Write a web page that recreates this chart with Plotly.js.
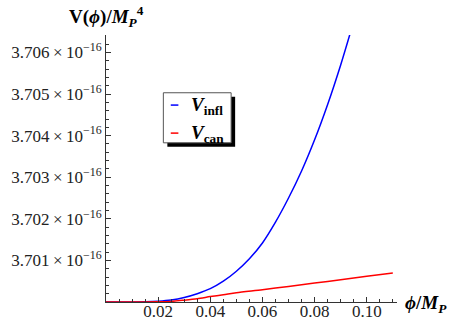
<!DOCTYPE html>
<html>
<head>
<meta charset="utf-8">
<script src="https://cdn.plot.ly/plotly-3.0.1.min.js"></script>
<style>html,body{margin:0;padding:0;background:#fff;}#plot{width:454px;height:321px;}</style>
</head>
<body>
<div id="plot"></div>
<script>
// ---- data (V in units of 1e-16 M_P^4) ----
var phiInfl = [0, 0.005, 0.01, 0.015, 0.02, 0.025, 0.03, 0.035, 0.04, 0.045, 0.05, 0.055, 0.06, 0.065, 0.07, 0.075, 0.08, 0.085, 0.09, 0.095];
var vInfl = [3.70000, 3.70000, 3.70000, 3.700005, 3.70002, 3.70005, 3.70011, 3.70020, 3.70032, 3.70050, 3.70074, 3.70104, 3.70142, 3.70192, 3.70250, 3.70315, 3.70390, 3.70475, 3.70570, 3.70675];
var phiCan = [0, 0.01, 0.02, 0.025, 0.03, 0.035, 0.04, 0.045, 0.05, 0.06, 0.07, 0.08, 0.09, 0.10, 0.11];
var vCan = [3.70000, 3.70000, 3.700005, 3.700015, 3.700045, 3.70008, 3.70013, 3.700175, 3.700225, 3.700295, 3.700375, 3.700455, 3.700535, 3.70062, 3.70070];
var xTickVals = [0.02, 0.04, 0.06, 0.08, 0.10];
var xTickText = ['0.02', '0.04', '0.06', '0.08', '0.10'];
var yTickVals = [3.701, 3.702, 3.703, 3.704, 3.705, 3.706];
var yTickMant = ['3.701', '3.702', '3.703', '3.704', '3.705', '3.706'];
var yTickExp = '−16';
var yTickText = yTickMant.map(function (s) {
  return s + '\u2009×\u200910<sup>' + yTickExp + '</sup>';
});
var seriesNames = ['<b><i>V</i><sub>infl</sub></b>', '<b><i>V</i><sub>can</sub></b>'];
var seriesColors = ['#0000ff', '#ff0000'];

// ---- layout geometry ----
var L = 106, T = 35, W = 290.7, H = 266.7, FW = 454, FH = 321;
function px(x) { return (x - L) / W; }
function py(y) { return (T + H - y) / H; }
var serif = 'Liberation Serif';

var traces = [
  { x: phiInfl, y: vInfl, mode: 'lines', name: seriesNames[0], line: { color: seriesColors[0], width: 1.5, shape: 'spline', smoothing: 0.8 }, showlegend: false },
  { x: phiCan, y: vCan, mode: 'lines', name: seriesNames[1], line: { color: seriesColors[1], width: 1.5, shape: 'spline', smoothing: 0.8 }, showlegend: false }
];

var legY = [105, 133];
var shapes = [
  { type: 'rect', xref: 'paper', yref: 'paper', x0: px(167.3), x1: px(235), y0: py(146.7), y1: py(96.7), fillcolor: '#000', line: { width: 0 }, layer: 'above' },
  { type: 'rect', xref: 'paper', yref: 'paper', x0: px(163.3), x1: px(231), y0: py(142.7), y1: py(92.7), fillcolor: '#fff', line: { width: 1, color: '#555' }, layer: 'above' }
];
var annotations = [];
for (var i = 0; i < 2; i++) {
  shapes.push({ type: 'line', xref: 'paper', yref: 'paper', x0: px(170.7), x1: px(178.3), y0: py(legY[i]), y1: py(legY[i]), line: { color: seriesColors[i], width: 1.5 }, layer: 'above' });
  annotations.push({ xref: 'paper', yref: 'paper', x: px(189), y: py(legY[i] + 1), xanchor: 'left', yanchor: 'middle', showarrow: false, text: seriesNames[i], font: { family: serif, size: 19, color: '#000' } });
}
annotations.push({ xref: 'paper', yref: 'paper', x: 0, y: 1, xanchor: 'center', yanchor: 'bottom', yshift: 3, showarrow: false,
  text: '<b>V(<i>ϕ</i>)/<i>M<sub>P</sub></i><sup>4</sup></b>', font: { family: serif, size: 19, color: '#000' } });
annotations.push({ xref: 'paper', yref: 'paper', x: 1, y: 0, xanchor: 'left', yanchor: 'middle', xshift: 6, yshift: -2, showarrow: false,
  text: '<b><i>ϕ</i>/<i>M<sub>P</sub></i></b>', font: { family: serif, size: 19, color: '#000' } });

var layout = {
  width: FW, height: FH,
  margin: { l: L, r: FW - L - W, t: T, b: FH - T - H, pad: 0 },
  paper_bgcolor: '#fff', plot_bgcolor: '#fff',
  showlegend: false,
  font: { family: serif, size: 16, color: '#222' },
  xaxis: {
    range: [0, 0.1116], showgrid: false, zeroline: false, showline: true, linecolor: '#333', linewidth: 1,
    tickmode: 'array', tickvals: xTickVals, ticktext: xTickText, ticks: 'inside', ticklen: 5, tickcolor: '#333', tickwidth: 1,
    ticklabelstandoff: -6,
    minor: { tickmode: 'linear', tick0: 0, dtick: 0.005, ticks: 'inside', ticklen: 3, tickcolor: '#333', tickwidth: 1 },
    tickfont: { family: serif, size: 17, color: '#222' }
  },
  yaxis: {
    range: [3.7, 3.70642], showgrid: false, zeroline: false, showline: true, linecolor: '#333', linewidth: 1,
    tickmode: 'array', tickvals: yTickVals, ticktext: yTickText, ticks: 'inside', ticklen: 5, tickcolor: '#333', tickwidth: 1,
    minor: { tickmode: 'linear', tick0: 3.7, dtick: 0.0002, ticks: 'inside', ticklen: 3, tickcolor: '#333', tickwidth: 1 },
    tickfont: { family: serif, size: 17, color: '#222' }
  },
  shapes: shapes,
  annotations: annotations
};
Plotly.newPlot('plot', traces, layout, { staticPlot: true, displayModeBar: false });
</script>
</body>
</html>
